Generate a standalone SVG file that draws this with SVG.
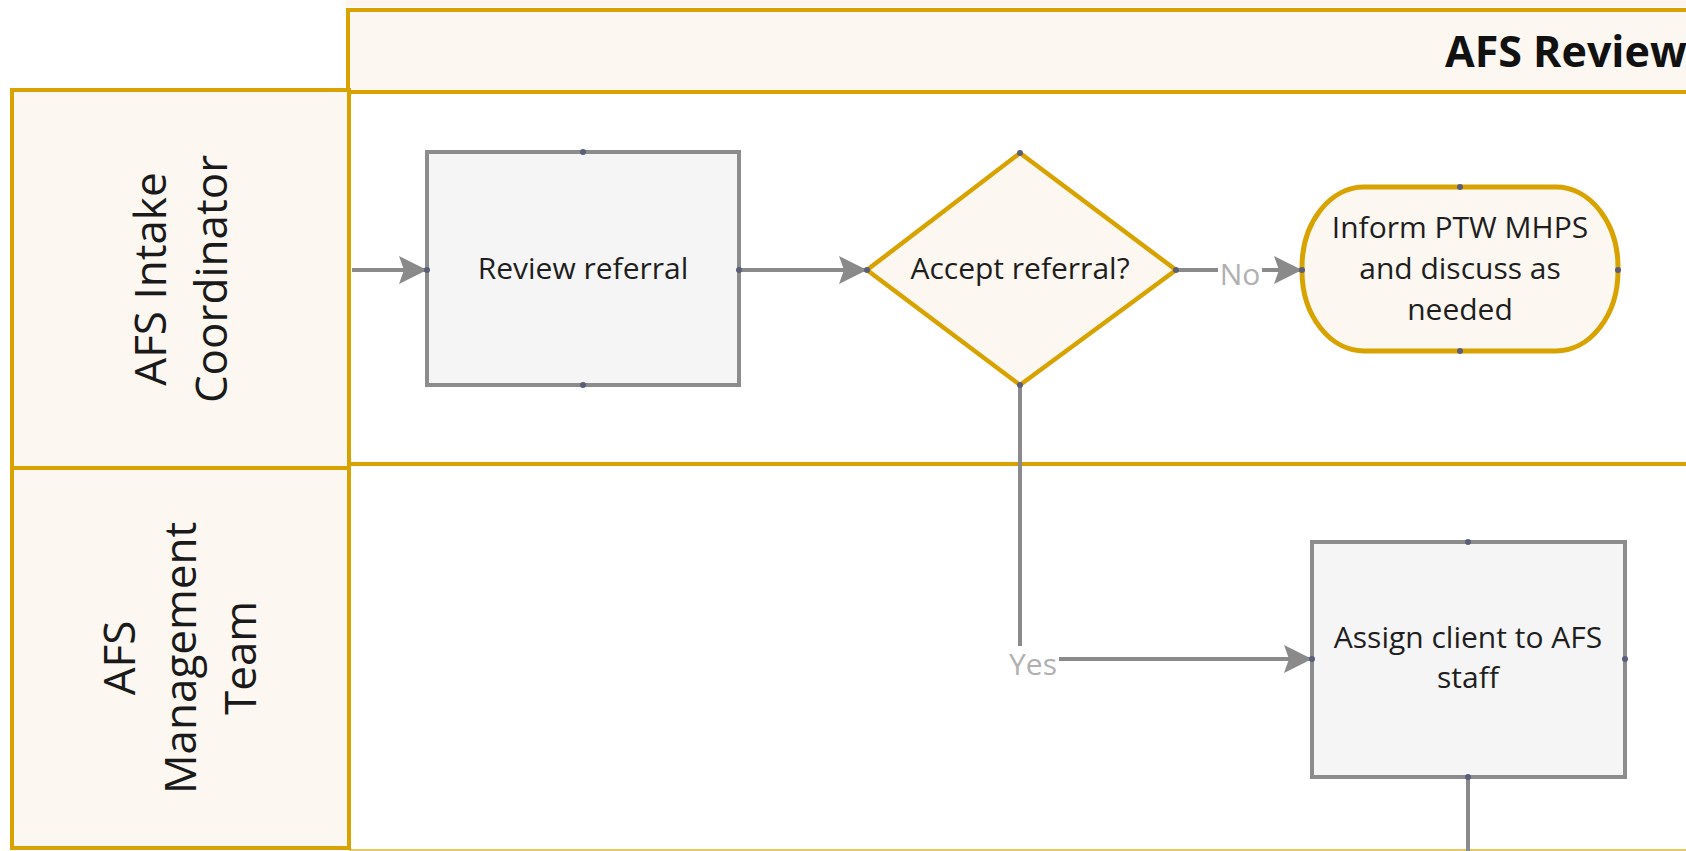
<svg xmlns="http://www.w3.org/2000/svg" width="1686" height="851" viewBox="0 0 1686 851">
<defs>
<style>
.lanebox{fill:#fdf7f1;stroke:#d8a300;stroke-width:4}
.lanebody{fill:none;stroke:#d8a300;stroke-width:4}
.lanelbl{font-family:"Open Sans","Liberation Sans",sans-serif;font-size:44px;fill:#1a1a1a;text-anchor:middle}
.title{font-family:"Open Sans","Liberation Sans",sans-serif;font-size:43px;font-weight:bold;fill:#111}
.proc{fill:#f5f5f5;stroke:#8c8c8c;stroke-width:4}
.gold{fill:#fdf7f1;stroke:#d8a300;stroke-width:4.5}
.ntext{font-family:"Open Sans","Liberation Sans",sans-serif;font-size:30px;fill:#1e1e1e;text-anchor:middle}
.conn{fill:none;stroke:#8a8a8a;stroke-width:4}
.clabel{font-family:"Open Sans","Liberation Sans",sans-serif;font-size:30px;fill:#b0b0b0;text-anchor:middle}
.dot{fill:#5b5e78}
</style>
<marker id="arr" markerUnits="userSpaceOnUse" markerWidth="30" markerHeight="30" refX="28" refY="14" orient="auto">
<path d="M0,0 L28,14 L0,28 L5,14 Z" fill="#8a8a8a"/>
</marker>
</defs>
<rect x="0" y="0" width="1686" height="851" fill="#ffffff"/>
<rect x="345" y="0" width="1341" height="7" fill="#fdf5ee"/>

<g id="header">
<rect class="lanebox" x="348" y="10" width="1345" height="82"/>
<text class="title" x="1445" y="67">AFS Review</text>
</g>

<g id="lane-intake">
<rect class="lanebody" x="349" y="92" width="1345" height="372"/>
<rect class="lanebox" x="12" y="90" width="337" height="378"/>
<text class="lanelbl" transform="translate(166,279) rotate(-90)">AFS Intake</text>
<text class="lanelbl" transform="translate(227,279) rotate(-90)">Coordinator</text>
</g>

<g id="lane-management">
<path class="lanebody" d="M349,464 H1694"/>
<path d="M349,850 H1686" stroke="#e8c660" stroke-width="2" fill="none"/>
<rect class="lanebox" x="12" y="468" width="337" height="380"/>
<text class="lanelbl" transform="translate(135,658) rotate(-90)">AFS</text>
<text class="lanelbl" transform="translate(196,658) rotate(-90)">Management</text>
<text class="lanelbl" transform="translate(256,658) rotate(-90)">Team</text>
</g>

<g id="connectors">
<line class="conn" x1="352" y1="270" x2="427" y2="270" marker-end="url(#arr)"/>
<line class="conn" x1="739" y1="270" x2="867" y2="270" marker-end="url(#arr)"/>
<line class="conn" x1="1176" y1="270" x2="1218" y2="270"/>
<text class="clabel" x="1240" y="285">No</text>
<line class="conn" x1="1262" y1="270" x2="1302" y2="270" marker-end="url(#arr)"/>
<line class="conn" x1="1020" y1="385" x2="1020" y2="646"/>
<text class="clabel" x="1033" y="675">Yes</text>
<line class="conn" x1="1059" y1="659" x2="1312" y2="659" marker-end="url(#arr)"/>
<line class="conn" x1="1468" y1="777" x2="1468" y2="851"/>
</g>

<g id="review-referral">
<rect class="proc" x="427" y="152" width="312" height="233"/>
<text class="ntext" x="583" y="279">Review referral</text>
<circle class="dot" cx="583" cy="152" r="3"/><circle class="dot" cx="583" cy="385" r="3"/>
<circle class="dot" cx="427" cy="270" r="3"/><circle class="dot" cx="739" cy="270" r="3"/>
</g>

<g id="accept-referral">
<polygon class="gold" points="1020,153 1176,270 1020,385 867,270"/>
<text class="ntext" x="1020" y="279">Accept referral?</text>
<circle class="dot" cx="1020" cy="153" r="3"/><circle class="dot" cx="1020" cy="385" r="3"/>
<circle class="dot" cx="867" cy="270" r="3"/><circle class="dot" cx="1176" cy="270" r="3"/>
</g>

<g id="inform-ptw">
<rect class="gold" x="1302" y="187" width="316" height="164" rx="62" ry="80" style="stroke-width:5"/>
<text class="ntext" x="1460" y="238">Inform PTW MHPS</text>
<text class="ntext" x="1460" y="279">and discuss as</text>
<text class="ntext" x="1460" y="320">needed</text>
<circle class="dot" cx="1460" cy="187" r="3"/><circle class="dot" cx="1460" cy="351" r="3"/>
<circle class="dot" cx="1302" cy="270" r="3"/><circle class="dot" cx="1618" cy="270" r="3"/>
</g>

<g id="assign-client">
<rect class="proc" x="1312" y="542" width="313" height="235"/>
<text class="ntext" x="1468" y="648">Assign client to AFS</text>
<text class="ntext" x="1468" y="688">staff</text>
<circle class="dot" cx="1468" cy="542" r="3"/><circle class="dot" cx="1468" cy="777" r="3"/>
<circle class="dot" cx="1312" cy="659" r="3"/><circle class="dot" cx="1625" cy="659" r="3"/>
</g>
</svg>
